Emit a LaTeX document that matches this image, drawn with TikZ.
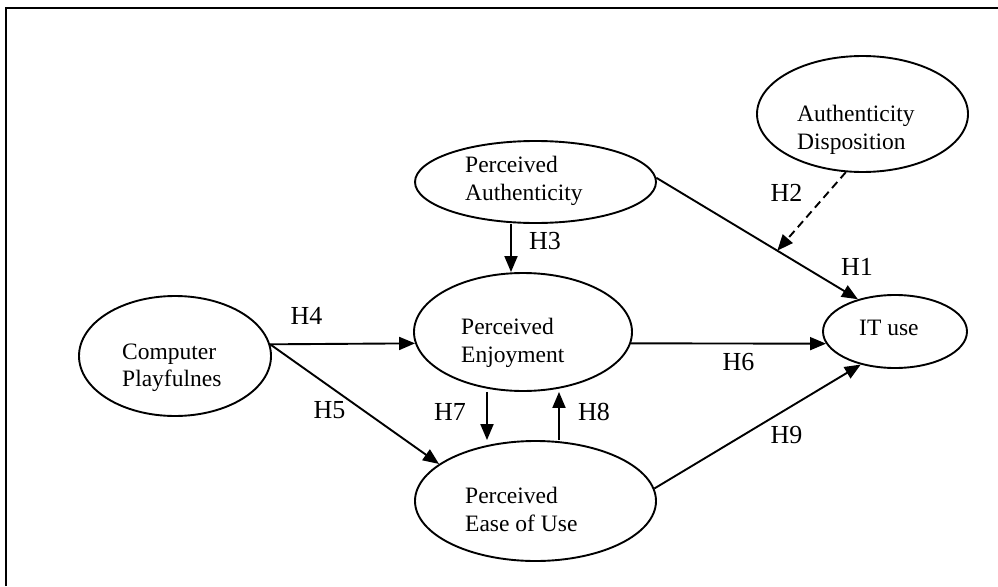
\documentclass[tikz,border=0pt]{standalone}
\usepackage{fontspec}
\setmainfont{Liberation Serif}
\usetikzlibrary{shapes.geometric,arrows.meta}
\begin{document}
\begin{tikzpicture}[x=1pt,y=-1pt,
  ell/.style={draw,ellipse,line width=1.9pt,inner sep=0pt},
  txt/.style={anchor=north west,inner sep=0pt,align=left,font=\fontsize{23.5}{27.5}\selectfont},
  lab/.style={inner sep=0pt,font=\fontsize{26}{30}\selectfont},
  arr/.style={line width=1.9pt,-{Triangle[length=16pt,width=13pt]}}]
\useasboundingbox (0,0) rectangle (998,586);
\draw[line width=2.2pt] (6,586) -- (6,8) -- (998,8);

% ellipses
\node[ell,minimum width=192pt,minimum height=120pt] (Comp) at (175,356) {};
\node[ell,minimum width=218pt,minimum height=118pt] (Enj) at (523,332) {};
\node[ell,minimum width=241pt,minimum height=82pt] (Auth) at (535.5,182) {};
\node[ell,minimum width=211pt,minimum height=116pt] (Disp) at (862.5,114) {};
\node[ell,minimum width=144pt,minimum height=73pt] (IT) at (895,331.5) {};
\node[ell,minimum width=241pt,minimum height=120pt] (Ease) at (535.5,501) {};

% texts
\node[txt] (Comp-t) at (122,343.5) {Computer\\Playfulnes};
\node[txt] (Auth-t) at (465,156.3) {Perceived\\Authenticity};
\node[txt] (Disp-t) at (797,105.3) {Authenticity\\Disposition};
\node[txt] (Enj-t) at (461,318.3) {Perceived\\Enjoyment};
\node[txt] (Ease-t) at (465,487.3) {Perceived\\Ease of Use};
\node[txt] (IT-t) at (859,319.8) {IT use};

% connectors
\draw[arr] ([xshift=-24.5pt]Auth.south) -- ([xshift=-12pt]Enj.north);
\draw[arr] (Auth.2) -- coordinate[pos=0.6] (m) (IT.139);
\draw[arr,dash pattern=on 8pt off 5pt] (Disp.254) -- (m);
\draw[arr] (Comp.7) -- (Enj.186);
\draw[arr] (Comp.7) -- (Ease.159);
\draw[arr] (Enj.354) -- (IT.190);
\draw[arr] ([xshift=-36pt]Enj.south) -- ([xshift=-48.5pt]Ease.north);
\draw[arr] ([xshift=23.5pt]Ease.north) -- ([xshift=36pt]Enj.south);
\draw[arr] (Ease.6) -- (IT.224);

% labels
\node[lab] (h1) at (857,267) {H1};
\node[lab] (h2) at (786.5,193) {H2};
\node[lab] (h3) at (545,241.5) {H3};
\node[lab] (h4) at (306.5,315.5) {H4};
\node[lab] (h5) at (329.5,410.5) {H5};
\node[lab] (h6) at (738.5,362) {H6};
\node[lab] (h7) at (450,411.5) {H7};
\node[lab] (h8) at (594,412) {H8};
\node[lab] (h9) at (786.5,435) {H9};
\end{tikzpicture}
\end{document}
